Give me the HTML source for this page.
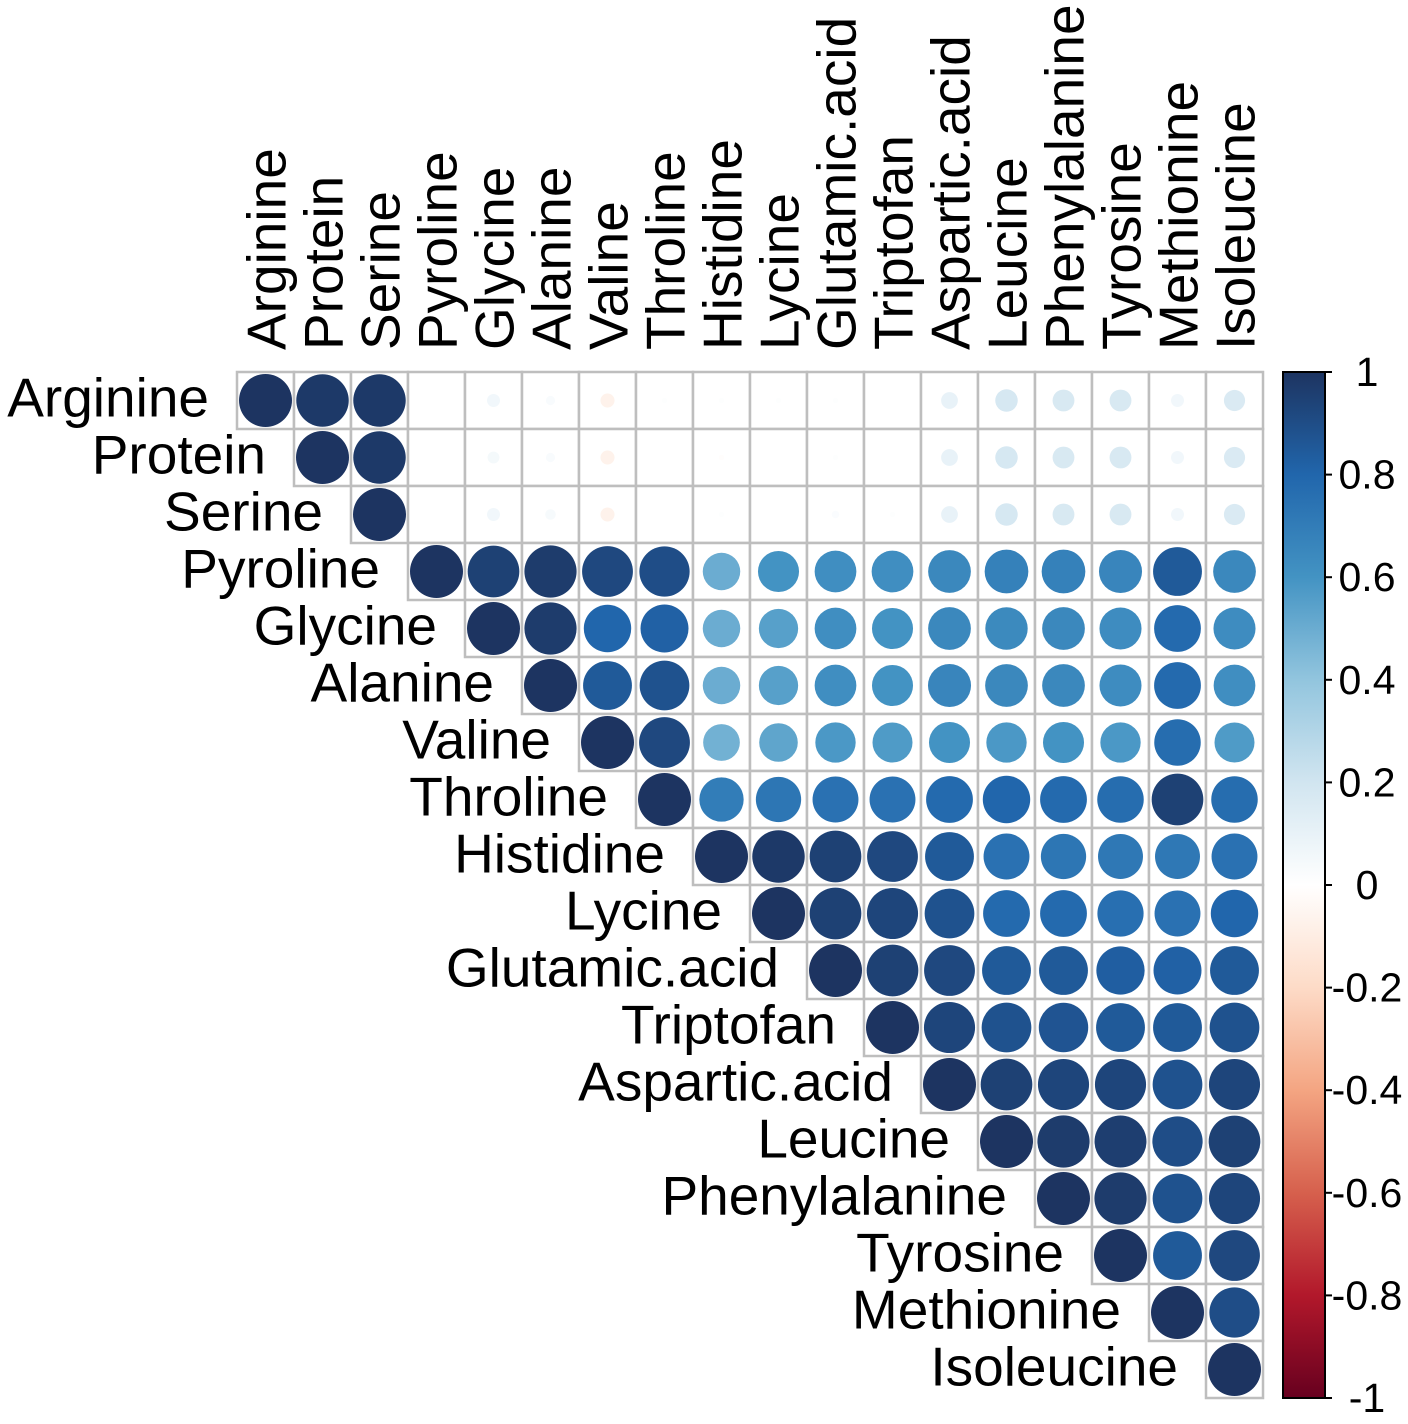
<!DOCTYPE html>
<html><head><meta charset="utf-8"><style>
html,body{margin:0;padding:0;background:#fff;}
svg{display:block;font-family:"Liberation Sans",Arial,sans-serif;}
</style></head><body>
<svg id="chart" width="1408" height="1424" viewBox="0 0 1408 1424" xmlns="http://www.w3.org/2000/svg"></svg>
<script>
const labels = ["Arginine","Protein","Serine","Pyroline","Glycine","Alanine","Valine","Throline","Histidine","Lycine","Glutamic.acid","Triptofan","Aspartic.acid","Leucine","Phenylalanine","Tyrosine","Methionine","Isoleucine"];
const rowArginine = [1,0.98,0.98,0,0.06,0.03,-0.07,0.01,0.01,0.01,0.01,0,0.1,0.18,0.17,0.17,0.06,0.16];
const rowProtein = [1,0.98,0,0.05,0.03,-0.07,0,-0.01,0,0.01,0,0.1,0.18,0.17,0.17,0.06,0.16];
const rowSerine = [1,0,0.06,0.04,-0.07,0,0.01,0,0.02,0.01,0.1,0.18,0.17,0.17,0.06,0.16];
const rowPyroline = [1,0.95,0.97,0.92,0.9,0.5,0.6,0.62,0.62,0.65,0.68,0.68,0.66,0.85,0.65];
const rowGlycine = [1,0.97,0.8,0.82,0.5,0.55,0.62,0.6,0.65,0.64,0.65,0.63,0.78,0.63];
const rowAlanine = [1,0.85,0.88,0.5,0.55,0.62,0.6,0.66,0.65,0.65,0.63,0.78,0.62];
const rowValine = [1,0.92,0.48,0.53,0.58,0.57,0.6,0.58,0.6,0.58,0.77,0.57];
const rowThroline = [1,0.7,0.73,0.75,0.75,0.78,0.8,0.78,0.77,0.95,0.77];
const rowHistidine = [1,0.98,0.95,0.92,0.85,0.75,0.73,0.72,0.72,0.75];
const rowLycine = [1,0.95,0.93,0.88,0.78,0.78,0.76,0.75,0.8];
const rowGlutamic = [1,0.95,0.92,0.85,0.85,0.83,0.82,0.85];
const rowTriptofan = [1,0.93,0.88,0.87,0.85,0.85,0.88];
const rowAspartic = [1,0.95,0.93,0.93,0.88,0.93];
const rowLeucine = [1,0.97,0.96,0.9,0.95];
const rowPhenyl = [1,0.97,0.88,0.93];
const rowTyrosine = [1,0.85,0.92];
const rowMethionine = [1,0.9];
const rowIsoleucine = [1];
const rows = [rowArginine,rowProtein,rowSerine,rowPyroline,rowGlycine,rowAlanine,rowValine,rowThroline,rowHistidine,rowLycine,rowGlutamic,rowTriptofan,rowAspartic,rowLeucine,rowPhenyl,rowTyrosine,rowMethionine,rowIsoleucine];
const barTicks = ["1","0.8","0.6","0.4","0.2","0","-0.2","-0.4","-0.6","-0.8","-1"];

const NS="http://www.w3.org/2000/svg";
const svg=document.getElementById('chart');
const X0=237,Y0=372,CW=57,N=labels.length;
const stops=["#67001F","#B2182B","#D6604D","#F4A582","#FDDBC7","#FFFFFF","#D1E5F0","#92C5DE","#4393C3","#2166AC","#1D3461"];
function hex(h){return [1,3,5].map(i=>parseInt(h.substr(i,2),16));}
function color(v){
  let t=(v+1)/2*10; let i=Math.min(9,Math.floor(t)); let f=t-i;
  const a=hex(stops[i]),b=hex(stops[i+1]);
  return 'rgb('+a.map((c,k)=>Math.round(c+(b[k]-c)*f)).join(',')+')';
}
function xs(j){return X0+j*CW;}
function ys(i){return Y0+i*CW;}
function mk(tag,attrs){const e=document.createElementNS(NS,tag);for(const k in attrs)e.setAttribute(k,attrs[k]);svg.appendChild(e);return e;}

for(let i=0;i<N;i++){
  for(let j=i;j<N;j++){
    const r=mk('rect',{x:xs(j),y:ys(i),width:CW,height:CW,fill:'#fff',stroke:'#bebebe','stroke-width':2.5});
    
    
  }
}
for(let i=0;i<N;i++){
  const row=rows[i];
  for(let k=0;k<row.length;k++){
    const j=i+k, v=row[k];
    const rad=26.5*Math.sqrt(Math.abs(v));
    if(rad<0.5) continue;
    const c=mk('circle',{cx:xs(j)+CW/2,cy:ys(i)+CW/2,r:rad,fill:color(v)});
    
    
  }
}
for(let i=0;i<N;i++){
  const t=mk('text',{x:xs(i)-28,y:ys(i)+CW/2+16,'text-anchor':'end','font-size':55,fill:'#000'});
  t.textContent=labels[i];
  
  
}
for(let j=0;j<N;j++){
  const cx=xs(j)+CW/2+20, cy=350;
  const t=mk('text',{x:cx,y:cy,'text-anchor':'start','font-size':55,fill:'#000',transform:'rotate(-90 '+cx+' '+cy+')'});
  t.textContent=labels[j];
  
  
}
const BX=1283,BW=42,BT=372,BB=1398;
const defs=mk('defs',{});
const lg=document.createElementNS(NS,'linearGradient');
lg.setAttribute('id','cbg');lg.setAttribute('x1','0');lg.setAttribute('y1','1');lg.setAttribute('x2','0');lg.setAttribute('y2','0');
stops.forEach((s,i)=>{const st=document.createElementNS(NS,'stop');st.setAttribute('offset',i/10);st.setAttribute('stop-color',s);lg.appendChild(st);});
defs.appendChild(lg);
const cb=mk('rect',{x:BX,y:BT,width:BW,height:BB-BT,fill:'url(#cbg)',stroke:'#000','stroke-width':2});


barTicks.forEach((lab,i)=>{
  const y=BT+i*(BB-BT)/(barTicks.length-1);
  const tk=mk('line',{x1:BX+BW,x2:BX+BW+7,y1:y,y2:y,stroke:'#000','stroke-width':2});
  
  
  const t=mk('text',{x:1367,y:y+14,'text-anchor':'middle','font-size':41,fill:'#000'});
  t.textContent=lab;
  
  
});
</script>
</body></html>
